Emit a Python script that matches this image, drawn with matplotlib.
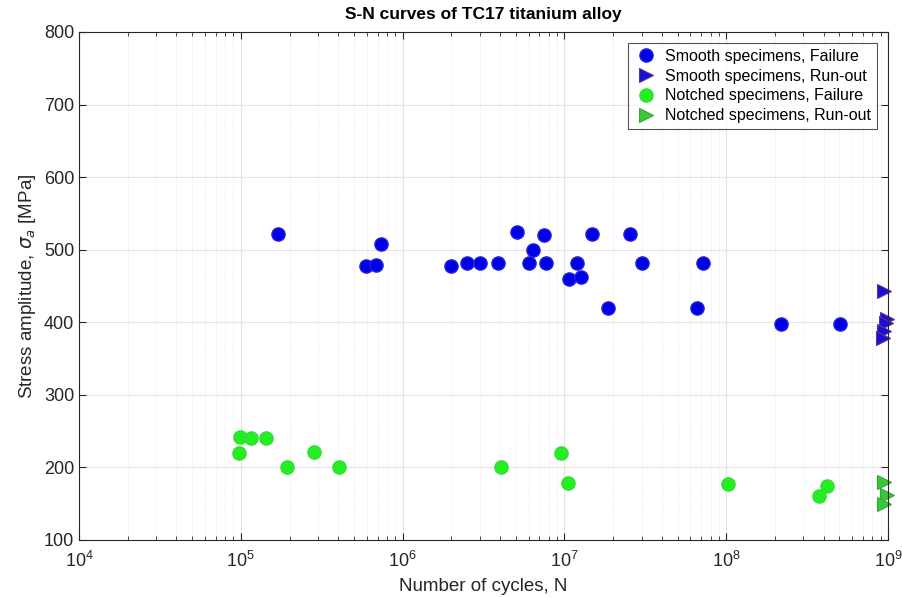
#--- Imports ---
import matplotlib
matplotlib.use('Agg')
import matplotlib.pyplot as plt
import numpy as np
from matplotlib.ticker import LogLocator, NullFormatter

plt.rcParams['font.family'] = ['Liberation Sans', 'DejaVu Sans']

#--- Data ---
smooth_fail_N = [1.69e5, 5.9e5, 6.8e5, 7.4e5, 2.0e6, 2.5e6, 3.0e6, 3.9e6,
                 5.06e6, 6.0e6, 6.37e6, 7.5e6, 7.66e6, 1.07e7, 1.19e7, 1.27e7,
                 1.49e7, 1.85e7, 2.53e7, 3.0e7, 6.57e7, 7.15e7, 2.19e8, 5.06e8]
smooth_fail_S = [522, 478, 479, 508, 477, 482, 482, 482,
                 524, 482, 499, 520, 482, 459, 482, 462,
                 521, 419, 522, 481, 420, 481, 398, 397]

smooth_runout_N = [9.5e8, 9.8e8, 9.7e8, 9.5e8, 9.3e8]
smooth_runout_S = [443, 405, 399, 388, 379]

notched_fail_N = [9.7e4, 9.84e4, 1.16e5, 1.43e5, 1.92e5, 2.82e5, 4.02e5, 4.04e6,
                  9.46e6, 1.05e7, 1.03e8, 3.73e8, 4.2e8]
notched_fail_S = [220, 242, 241, 241, 200, 221, 200, 201,
                  220, 179, 177, 161, 174]

notched_runout_N = [9.5e8, 9.8e8, 9.5e8]
notched_runout_S = [180, 162, 149]

#--- Figure ---
fig = plt.figure(figsize=(9.02, 5.98), dpi=100)
ax = fig.add_axes([0.0876, 0.097, 0.8969, 0.8495])

ms = 9.5
ax.plot(smooth_fail_N, smooth_fail_S, 'o', color='#0000e6', markersize=ms,
        markeredgecolor='#2020e0', label='Smooth specimens, Failure', clip_on=False)
ax.plot(smooth_runout_N, smooth_runout_S, '>', color='#1a10d0', markersize=ms,
        markeredgecolor='#6030a0', markeredgewidth=0.8,
        label='Smooth specimens, Run-out', clip_on=False)
ax.plot(notched_fail_N, notched_fail_S, 'o', color='#22ee22', markersize=ms,
        markeredgecolor='#30e030', label='Notched specimens, Failure', clip_on=False)
ax.plot(notched_runout_N, notched_runout_S, '>', color='#33cc33', markersize=ms,
        markeredgecolor='#40a040', markeredgewidth=0.8,
        label='Notched specimens, Run-out', clip_on=False)

ax.set_xscale('log')
ax.set_xlim(1e4, 1e9)
ax.set_ylim(100, 800)
ax.set_yticks(np.arange(100, 801, 100))
ax.xaxis.set_minor_locator(LogLocator(base=10, subs=np.arange(2, 10), numticks=20))
ax.xaxis.set_minor_formatter(NullFormatter())

# MATLAB-like grid and box
ax.grid(True, which='major', color='#e4e4e4', linewidth=0.8, linestyle='-')
ax.grid(True, which='minor', axis='x', color='#e6e6e6', linewidth=0.7, linestyle=':')
ax.set_axisbelow(True)
ax.tick_params(which='both', direction='in', top=True, right=True,
               colors='#262626', labelsize=13)
ax.tick_params(which='major', length=5)
ax.tick_params(which='minor', length=3)
ax.tick_params(axis='x', pad=8)
for s in ax.spines.values():
    s.set_color('#262626')
    s.set_linewidth(0.8)

ax.set_xlabel('Number of cycles, N', fontsize=13.5, color='#262626', labelpad=5)
ax.set_ylabel(r'Stress amplitude, $\sigma_a$ [MPa]', fontsize=13.5, color='#262626')
ax.set_title('S-N curves of TC17 titanium alloy', fontsize=12.5, fontweight='bold', pad=9)

leg = ax.legend(loc='upper right', fontsize=11.5, frameon=True, fancybox=False,
                borderpad=0.35, labelspacing=0.3, handletextpad=0.4,
                handlelength=1.6, borderaxespad=0.7, markerscale=1.0)
leg.get_frame().set_edgecolor('#262626')
leg.get_frame().set_linewidth(0.8)

plt.savefig('out.png', dpi=100)
